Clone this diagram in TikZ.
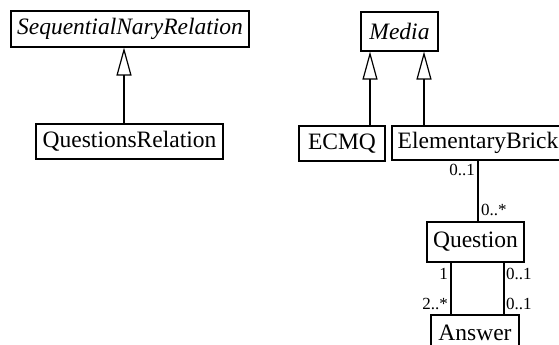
\documentclass[tikz,border=0pt]{standalone}
\usepackage{fontspec}
\setmainfont{Liberation Serif}
\usetikzlibrary{arrows.meta}
\tikzstyle{cls}=[draw=black,line width=1.1pt,inner sep=0pt,font=\fontsize{23.5}{28}\selectfont]
\tikzstyle{inh}=[-{Triangle[open,length=28pt,width=15pt]},line width=1.2pt]
\tikzstyle{assoc}=[line width=1.2pt]
\tikzstyle{mult}=[inner sep=1pt,font=\fontsize{17}{20}\selectfont]

\begin{document}
\begin{tikzpicture}[x=1pt,y=-1pt]
\clip (0,0) rectangle (559,345);
\node[cls,minimum width=238pt,minimum height=36pt] (SNR) at (130,29) {\itshape SequentialNaryRelation};
\node[cls,minimum width=187pt,minimum height=35pt] (QR) at (129.5,141.5) {QuestionsRelation};
\node[cls,minimum width=77pt,minimum height=39pt] (Media) at (399.5,31.5) {\itshape Media};
\node[cls,minimum width=86pt,minimum height=35pt] (ECMQ) at (342,143.5) {ECMQ};
\node[cls,minimum width=172pt,minimum height=34pt] (EB) at (478,143) {ElementaryBrick};
\node[cls,minimum width=97pt,minimum height=40pt] (Q) at (475.5,242) {Question};
\node[cls,minimum width=88pt,minimum height=35pt] (A) at (475,332.5) {Answer};
\coordinate (qrtop) at ([xshift=-5.5pt]QR.north);
\coordinate (ecmqtop) at ([xshift=28pt]ECMQ.north);
\coordinate (ebtop) at ([xshift=-54pt]EB.north);
\coordinate (qleft) at ([xshift=-24.5pt]Q.south);
\coordinate (qright) at ([xshift=28.5pt]Q.south);
\draw[inh](qrtop)--(qrtop |- SNR.south);
\draw[inh](ecmqtop)--(ecmqtop |- Media.south);\draw[inh](ebtop)--(ebtop |- Media.south);
\draw[assoc](EB.south)--(EB.south |- Q.north);
\draw[assoc](qleft)--(qleft |- A.north);\draw[assoc](qright)--(qright |- A.north);
\node[mult,anchor=east] (m1) at (476,170) {0..1};
\node[mult,anchor=west] (m2) at (480,210) {0..*};
\node[mult,anchor=east] (m3) at (449,274) {1};
\node[mult,anchor=east] (m4) at (449,304) {2..*};
\node[mult,anchor=west] (m5) at (505,274) {0..1};
\node[mult,anchor=west] (m6) at (505,304) {0..1};
\end{tikzpicture}
\end{document}
